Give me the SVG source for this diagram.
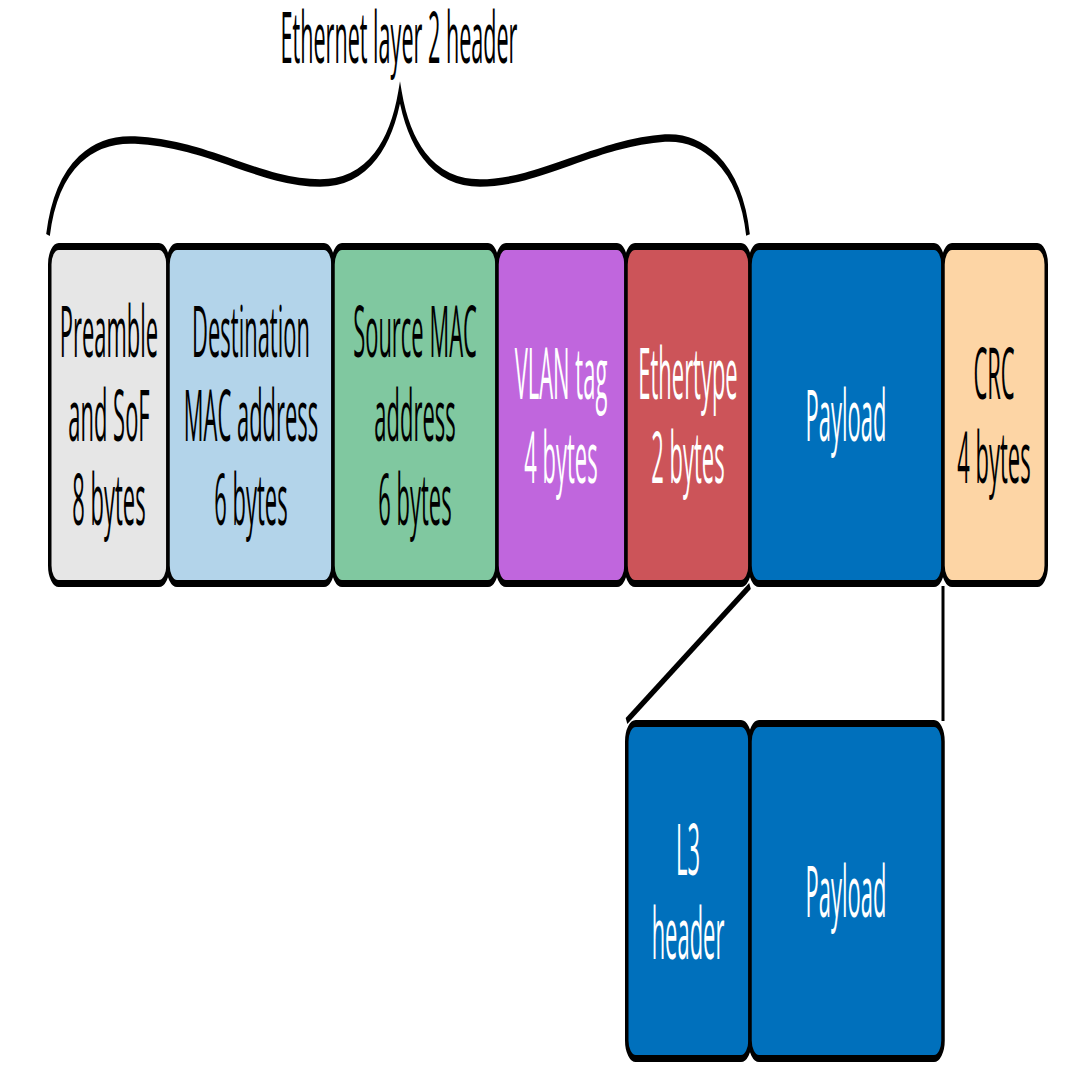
<svg xmlns="http://www.w3.org/2000/svg" width="1086" height="1068" viewBox="0 0 1086 1068">
<style>
.box{stroke:#000;stroke-width:7;}
.t{font-family:"Open Sans","Noto Sans",sans-serif;font-size:72px;text-anchor:middle;fill:#000;}
.w{fill:#fff;}
.ln{stroke:#000;fill:none;stroke-width:7;stroke-linecap:butt;}
</style>
<rect width="1086" height="1068" fill="#fff"/>
<g id="title">
<text class="t" style="font-weight:500" transform="translate(399,0) scale(0.3,1)" x="0" y="63">Ethernet layer 2 header</text>
<path class="ln" transform="scale(0.5,1)" style="stroke-width:7.5" d="M96,235 C114,162 190,138 270,140 C420,144 520,183 640,183 C740,183 784,140 800,93 C816,140 860,183 960,183 C1080,183 1190,143 1330,138 C1400,136 1480,162 1496,235"/>
</g>
<g id="preamble">
<rect class="box" transform="scale(0.5,1)" x="99.5" y="246.5" width="236.5" height="337" rx="18" ry="18" fill="#e6e6e6"/>
<text class="t" transform="translate(109,0) scale(0.305,1)" x="0" y="357">Preamble</text>
<text class="t" transform="translate(109,0) scale(0.305,1)" x="0" y="441">and SoF</text>
<text class="t" transform="translate(109,0) scale(0.305,1)" x="0" y="525">8 bytes</text>
</g>
<g id="dest-mac">
<rect class="box" transform="scale(0.5,1)" x="336" y="246.5" width="330" height="337" rx="18" ry="18" fill="#b3d4ea"/>
<text class="t" transform="translate(251,0) scale(0.305,1)" x="0" y="357">Destination</text>
<text class="t" transform="translate(251,0) scale(0.305,1)" x="0" y="441">MAC address</text>
<text class="t" transform="translate(251,0) scale(0.305,1)" x="0" y="525">6 bytes</text>
</g>
<g id="src-mac">
<rect class="box" transform="scale(0.5,1)" x="666" y="246.5" width="328" height="337" rx="18" ry="18" fill="#80c8a0"/>
<text class="t" transform="translate(415,0) scale(0.305,1)" x="0" y="357">Source MAC</text>
<text class="t" transform="translate(415,0) scale(0.305,1)" x="0" y="441">address</text>
<text class="t" transform="translate(415,0) scale(0.305,1)" x="0" y="525">6 bytes</text>
</g>
<g id="vlan">
<rect class="box" transform="scale(0.5,1)" x="994" y="246.5" width="258" height="337" rx="18" ry="18" fill="#c066dd"/>
<text class="t w" transform="translate(561,0) scale(0.305,1)" x="0" y="399">VLAN tag</text>
<text class="t w" transform="translate(561,0) scale(0.305,1)" x="0" y="483">4 bytes</text>
</g>
<g id="ethertype">
<rect class="box" transform="scale(0.5,1)" x="1252" y="246.5" width="248" height="337" rx="18" ry="18" fill="#cc5459"/>
<text class="t w" transform="translate(688,0) scale(0.305,1)" x="0" y="399">Ethertype</text>
<text class="t w" transform="translate(688,0) scale(0.305,1)" x="0" y="483">2 bytes</text>
</g>
<g id="payload">
<rect class="box" transform="scale(0.5,1)" x="1500" y="246.5" width="386" height="337" rx="18" ry="18" fill="#0070bc"/>
<text class="t w" transform="translate(846,0) scale(0.305,1)" x="0" y="441">Payload</text>
</g>
<g id="crc">
<rect class="box" transform="scale(0.5,1)" x="1886" y="246.5" width="206.5" height="337" rx="18" ry="18" fill="#fdd5a5"/>
<text class="t" transform="translate(994,0) scale(0.305,1)" x="0" y="399">CRC</text>
<text class="t" transform="translate(994,0) scale(0.305,1)" x="0" y="483">4 bytes</text>
</g>
<g id="connectors">
<path class="ln" transform="scale(0.5,1)" d="M1500,586 L1253,721"/>
<path class="ln" transform="scale(0.5,1)" style="stroke-width:6" d="M1886,586 L1886,721"/>
</g>
<g id="l3-header">
<rect class="box" transform="scale(0.5,1)" x="1253.5" y="723.5" width="246.5" height="335" rx="18" ry="18" fill="#0070bc"/>
<text class="t w" transform="translate(688,0) scale(0.305,1)" x="0" y="875">L3</text>
<text class="t w" transform="translate(688,0) scale(0.305,1)" x="0" y="959">header</text>
</g>
<g id="payload-2">
<rect class="box" transform="scale(0.5,1)" x="1500" y="723.5" width="386" height="335" rx="18" ry="18" fill="#0070bc"/>
<text class="t w" transform="translate(846,0) scale(0.305,1)" x="0" y="917">Payload</text>
</g>
</svg>
